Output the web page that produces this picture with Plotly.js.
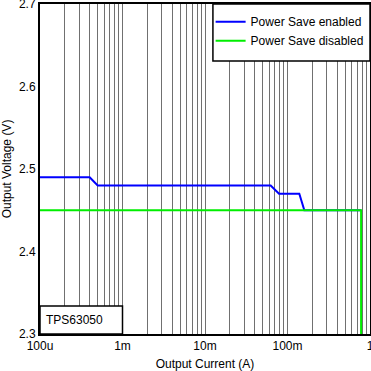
<!DOCTYPE html>
<html>
<head>
<meta charset="utf-8">
<script src="https://cdn.plot.ly/plotly-3.0.1.min.js"></script>
<style>html,body{margin:0;padding:0;background:#fff}#chart{width:371px;height:371px}</style>
</head>
<body>
<div id="chart"></div>
<script>
// Data
const seriesNames = ["Power Save enabled", "Power Save disabled"];
const enabledCurrent = [1e-4, 4.0e-4, 5.0e-4, 0.0625, 0.079, 0.139, 0.160, 0.78];
const enabledVoltage = [2.49, 2.49, 2.48, 2.48, 2.47, 2.47, 2.45, 2.45];
const disabledCurrent = [1e-4, 0.78, 0.78];
const disabledVoltage = [2.45, 2.45, 2.3];
const xTickVals = [1e-4, 1e-3, 1e-2, 1e-1, 1];
const xTickText = ["100u", "1m", "10m", "100m", "1"];
const yTickVals = [2.3, 2.4, 2.5, 2.6, 2.7];
const yTickText = ["2.3", "2.4", "2.5", "2.6", "2.7"];
const deviceLabel = "TPS63050";

const font = {family: "Liberation Sans, Arial, sans-serif", size: 12, color: "#000"};

const traces = [
  {x: enabledCurrent, y: enabledVoltage, name: seriesNames[0], mode: "lines",
   line: {color: "#0000ff", width: 2}},
  {x: disabledCurrent, y: disabledVoltage, name: seriesNames[1], mode: "lines",
   line: {color: "#00ee00", width: 2}}
];

const layout = {
  width: 371, height: 371,
  margin: {l: 40, r: 1, t: 4, b: 37, autoexpand: false},
  paper_bgcolor: "#fff", plot_bgcolor: "#fff",
  font: font,
  showlegend: true,
  legend: {x: 0.517, y: 0.99, xanchor: "left", yanchor: "top",
           bgcolor: "rgba(0,0,0,0)", borderwidth: 0, font: font,
           itemwidth: 30, tracegroupgap: 0},
  xaxis: {
    type: "log", range: [-4, 0], automargin: false, ticklabeloverflow: "allow",
    tickvals: xTickVals, ticktext: xTickText,
    ticks: "", showgrid: true, gridcolor: "#707070", gridwidth: 1,
    minor: {dtick: "D1", showgrid: true, gridcolor: "#707070", gridwidth: 1, ticks: ""},
    showline: true, linecolor: "#000", linewidth: 2, mirror: true,
    zeroline: false,
    title: {text: "Output Current (A)", font: font, standoff: 10},
    tickfont: font
  },
  yaxis: {
    range: [2.2999999, 2.7000001], automargin: false, ticklabeloverflow: "allow",
    tickvals: yTickVals, ticktext: yTickText,
    ticks: "", showgrid: false,
    showline: true, linecolor: "#000", linewidth: 2, mirror: true,
    zeroline: false,
    title: {text: "Output Voltage (V)", font: font, standoff: 6},
    tickfont: font
  },
  shapes: [
    {type: "rect", xref: "paper", yref: "paper", x0: 0.524, x1: 1, y0: 0.827, y1: 1,
     line: {color: "#000", width: 1.5}, fillcolor: "#fff", layer: "above"},
    {type: "rect", xref: "paper", yref: "paper", x0: 0, x1: 0.25, y0: 0, y1: 0.085,
     line: {color: "#000", width: 1.5}, fillcolor: "#fff", layer: "above"}
  ],
  annotations: [
    {text: deviceLabel, xref: "paper", yref: "paper", x: 0.012, y: 0.042,
     xanchor: "left", yanchor: "middle", showarrow: false, font: font}
  ]
};

Plotly.newPlot("chart", traces, layout, {displayModeBar: false, staticPlot: true});
</script>
</body>
</html>
